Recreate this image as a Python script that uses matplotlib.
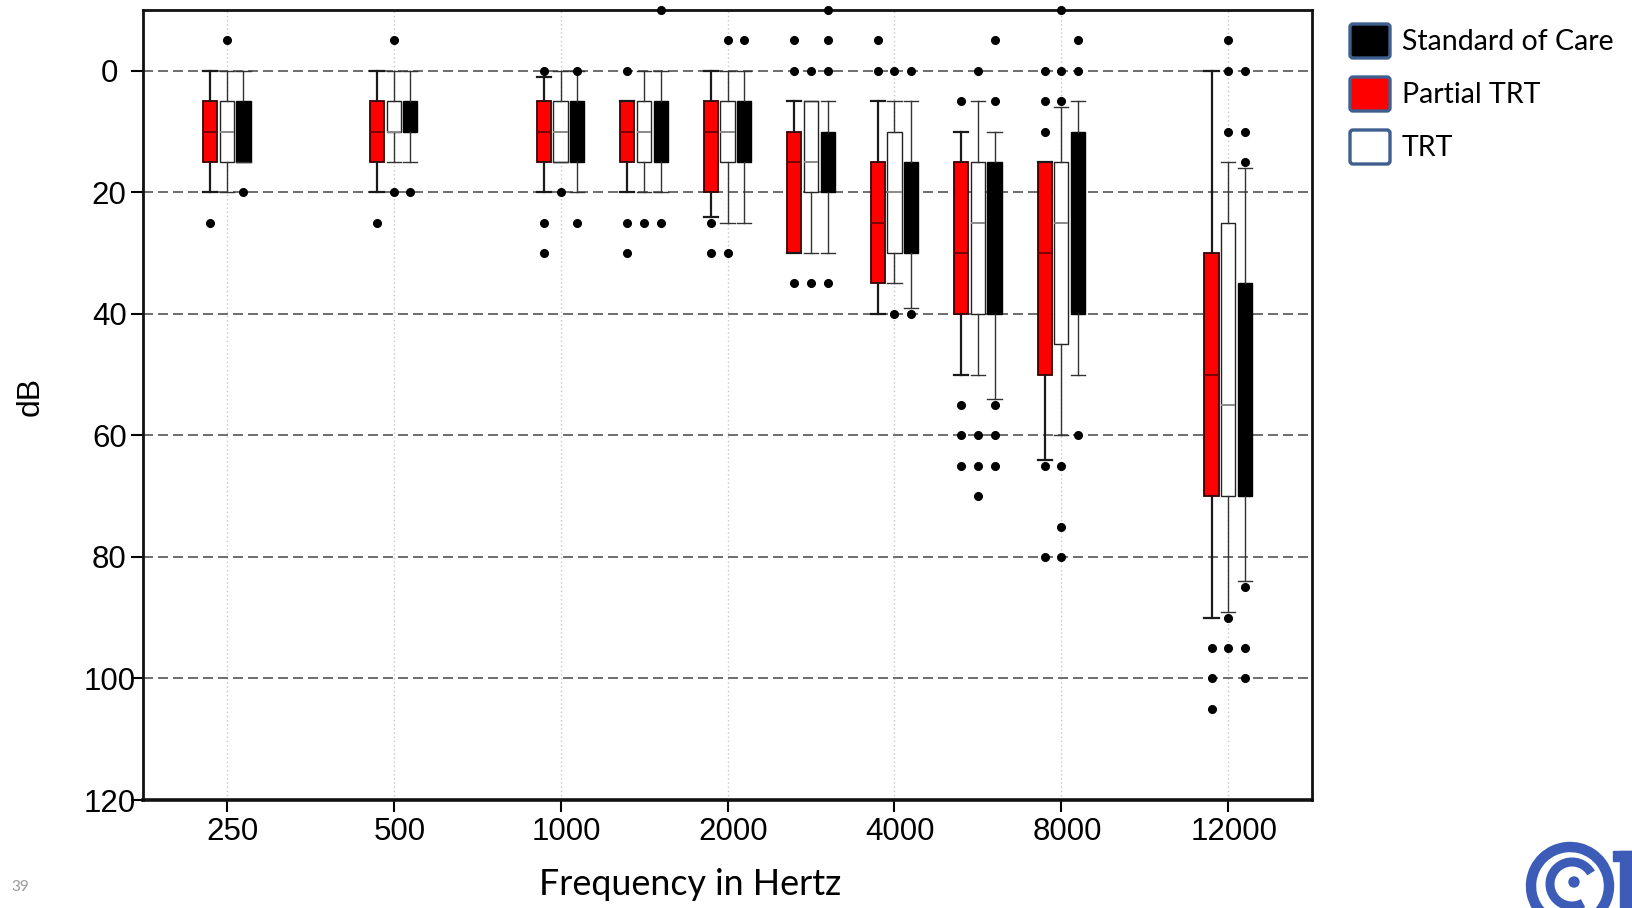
import matplotlib
matplotlib.use('Agg')
import matplotlib.pyplot as plt
from matplotlib.patches import FancyBboxPatch, Arc, Rectangle, Circle
from matplotlib.transforms import ScaledTranslation

# ---------------- data ----------------
freq_labels = ['250', '500', '1000', '1500', '2000', '3000', '4000', '6000', '8000', '12000']
tick_freqs = ['250', '500', '1000', '2000', '4000', '8000', '12000']
y_ticks = [0, 20, 40, 60, 80, 100, 120]
legend_names = ['Standard of Care', 'Partial TRT', 'TRT']

partial_q1 = [5, 5, 5, 5, 5, 10, 15, 15, 15, 30]
partial_med = [10, 10, 10, 10, 10, 15, 25, 30, 30, 50]
partial_q3 = [15, 15, 15, 15, 20, 30, 35, 40, 50, 70]
partial_lo = [0, 0, 1, 5, 0, 5, 5, 10, 15, 0]
partial_hi = [20, 20, 20, 20, 24, 30, 40, 50, 64, 90]
partial_fl = [[25], [25], [0, 25, 30], [0, 25, 30], [25, 30], [-5, 0, 35], [-5, 0],
              [5, 55, 60, 65], [0, 5, 10, 65, 80], [95, 100, 105]]

trt_q1 = [5, 5, 5, 5, 5, 5, 10, 15, 15, 25]
trt_med = [10, 10, 10, 10, 10, 15, 20, 25, 25, 55]
trt_q3 = [15, 10, 15, 15, 15, 20, 30, 40, 45, 70]
trt_lo = [0, 0, 0, 0, 0, 5, 5, 5, 6, 15]
trt_hi = [20, 15, 15, 20, 25, 30, 35, 50, 60, 89]
trt_fl = [[-5], [-5, 20], [20], [25], [-5, 30], [0, 35], [0, 40],
          [0, 60, 65, 70], [-10, 0, 5, 65, 75, 80], [-5, 0, 10, 90, 95]]

soc_q1 = [5, 5, 5, 5, 5, 10, 15, 15, 10, 35]
soc_med = [10, 7.5, 10, 10, 10, 15, 20, 25, 20, 55]
soc_q3 = [15, 10, 15, 15, 15, 20, 30, 40, 40, 70]
soc_lo = [0, 0, 0, 0, 0, 5, 5, 10, 5, 16]
soc_hi = [15, 15, 20, 20, 25, 30, 39, 54, 50, 84]
soc_fl = [[20], [20], [0, 25], [-10, 25], [-5], [-10, -5, 0, 35], [0, 40],
          [-5, 5, 55, 60, 65], [-5, 0, 60], [0, 10, 15, 85, 95, 100]]

# ---------------- layout ----------------
W, H = 1633, 908
slots = [0, 2, 4, 5, 6, 7, 8, 9, 10, 12]
box_w = 0.17
TICK_FONT = 'Liberation Sans'
TEXT_FONT = 'Lato'


def make_stats(q1, med, q3, lo, hi, fl):
    return [dict(q1=a, med=b, q3=c, whislo=d, whishi=e, fliers=f)
            for a, b, c, d, e, f in zip(q1, med, q3, lo, hi, fl)]


fig = plt.figure(figsize=(W / 100, H / 100), dpi=100)
fig.patch.set_facecolor('white')
ax = fig.add_axes([143.3 / W, 1 - 800 / H, (1311.7 - 143.3) / W, 790 / H])

series = [
    (make_stats(partial_q1, partial_med, partial_q3, partial_lo, partial_hi, partial_fl), -0.2,
     dict(facecolor='#ff0000', edgecolor='#3a0000', linewidth=1.3), '#7a0000', '#1a1a1a', 1.6),
    (make_stats(trt_q1, trt_med, trt_q3, trt_lo, trt_hi, trt_fl), 0.0,
     dict(facecolor='white', edgecolor='#222222', linewidth=1.0), '#8a8a8a', '#333333', 1.0),
    (make_stats(soc_q1, soc_med, soc_q3, soc_lo, soc_hi, soc_fl), 0.2,
     dict(facecolor='black', edgecolor='black', linewidth=1.0), 'black', '#333333', 1.0),
]

for stats, off, bprops, medc, wc, wlw in series:
    res = ax.bxp(stats, positions=[s + off for s in slots], widths=box_w, capwidths=box_w,
                 patch_artist=True, manage_ticks=False,
                 boxprops=bprops,
                 medianprops=dict(color=medc, linewidth=1.4),
                 whiskerprops=dict(color=wc, linewidth=wlw),
                 capprops=dict(color=wc, linewidth=wlw),
                 flierprops=dict(marker='o', markerfacecolor='black', markeredgecolor='black',
                                 markersize=5.5, linestyle='none'))
    for fl in res['fliers']:
        fl.set_clip_on(False)
        fl.set_zorder(4)

for v in y_ticks[:-1]:
    ax.axhline(v, color='#555555', lw=1.2, dashes=(6, 3), zorder=0.5)

tick_pos = [slots[freq_labels.index(f)] for f in tick_freqs]
for p in tick_pos:
    ax.axvline(p, color='#c8c8c8', lw=1.0, linestyle=(0, (1, 2)), zorder=0.4)

ax.set_xlim(-1, 13)
ax.set_ylim(120, -10)
ax.set_xticks(tick_pos)
ax.set_xticklabels(tick_freqs, fontfamily=TICK_FONT, fontsize=22.5)
ax.set_yticks(y_ticks)
ax.set_yticklabels([str(v) for v in y_ticks], fontfamily=TICK_FONT, fontsize=22.5,
                   ha='center')
ax.tick_params(axis='x', length=8.5, width=1.5, pad=3.5, direction='out')
ax.tick_params(axis='y', length=8.5, width=1.5, pad=16, direction='out')
for lab in ax.get_xticklabels():
    lab.set_transform(lab.get_transform() + ScaledTranslation(6 / 100, 0, fig.dpi_scale_trans))
for sp in ax.spines.values():
    sp.set_linewidth(2.0)
    sp.set_color('#111111')
ax.spines['bottom'].set_linewidth(2.6)

# ---------------- overlay (pixel coordinates) ----------------
ov = fig.add_axes([0, 0, 1, 1], zorder=5)
ov.set_xlim(0, W)
ov.set_ylim(H, 0)
ov.axis('off')
ov.patch.set_alpha(0)

ov.text(31, 396, 'dB', rotation=90, ha='center', va='center', fontsize=23, fontfamily=TICK_FONT)
ov.text(690, 895, 'Frequency in Hertz', ha='center', va='baseline', fontsize=25.8, fontfamily=TEXT_FONT)
ov.text(20, 887, '39', ha='center', va='center', fontsize=11, color='#9a9a9a', fontfamily=TEXT_FONT)

leg_fill = ['black', '#ff0000', 'white']
leg_y = [41, 94, 147]
for name, fc, yc in zip(legend_names, leg_fill, leg_y):
    ov.add_patch(FancyBboxPatch((1350, yc - 17), 40, 34,
                                boxstyle='round,pad=0,rounding_size=3',
                                facecolor=fc, edgecolor='#3f5f8f', linewidth=2.4))
    ov.text(1402, yc + 1, name, ha='left', va='center', fontsize=20.5, fontfamily=TEXT_FONT)

# decorative logo at bottom right
blue = '#3d5cb8'
ov.add_patch(Arc((1570, 886), 78, 78, theta1=110, theta2=420, lw=7.5, color=blue))
ov.add_patch(Arc((1572, 884), 44, 44, theta1=60, theta2=330, lw=6.5, color=blue))
ov.add_patch(Circle((1574, 882), 5, color=blue))
ov.add_patch(Rectangle((1613, 851), 20, 10, color=blue))
ov.add_patch(Rectangle((1620, 851), 13, 57, color=blue))

fig.savefig('out.png', dpi=100)
